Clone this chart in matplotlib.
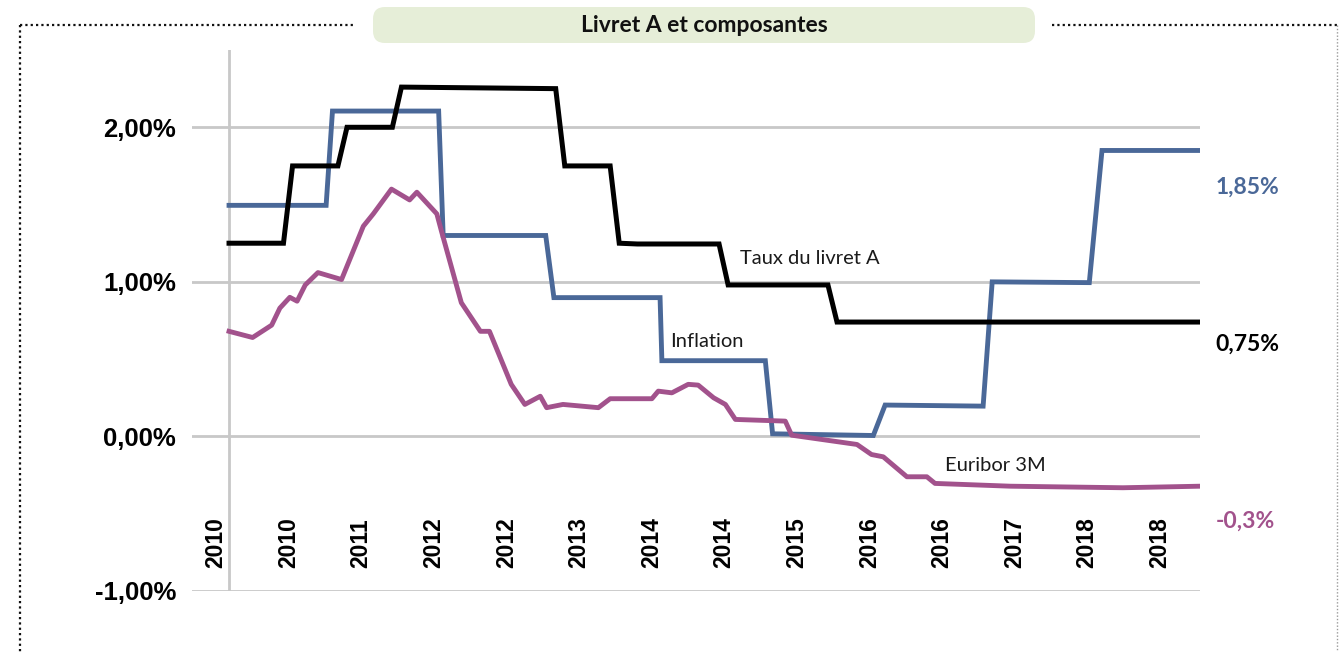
import numpy as np
import matplotlib
matplotlib.use("Agg")
import matplotlib.pyplot as plt
from matplotlib.patches import FancyBboxPatch
from matplotlib.lines import Line2D
from matplotlib.transforms import ScaledTranslation

# x = mois depuis janvier 2010 (0 = janv. 2010, 107 = déc. 2018)
livret_mois = [0, 6, 7, 12, 13, 18, 19, 36, 37, 42, 43, 45, 54, 55, 66, 67, 107]
livret_taux = [1.25, 1.25, 1.75, 1.75, 2.00, 2.00, 2.26, 2.25, 1.75, 1.75, 1.25, 1.245, 1.245,
               0.98, 0.98, 0.74, 0.74]

inflation_mois = [0, 10.7, 11.4, 23.1, 23.6, 34.9, 35.8, 47.5, 47.7, 59.1, 59.9, 71.0, 72.3,
                  83.1, 84.1, 94.8, 96.2, 107]
inflation_taux = [1.495, 1.495, 2.105, 2.105, 1.30, 1.30, 0.898, 0.898, 0.49, 0.49, 0.017,
                  0.006, 0.203, 0.196, 1.00, 0.995, 1.85, 1.85]

euribor_mois = [0, 2.6, 4.7, 5.6, 6.7, 7.5, 8.4, 9.8, 12.4, 14.8, 15.9, 17.9, 19.9, 20.7,
                22.9, 23.4, 25.6, 27.7, 28.7, 31.1, 32.6, 34.3, 35.0, 36.8, 40.7, 42.0,
                46.6, 47.3, 48.8, 50.6, 51.7, 53.4, 54.7, 55.8, 61.3, 62.0, 69.2, 70.8,
                72.1, 74.7, 76.9, 77.8, 86.1, 98.5, 107]
euribor_taux = [0.68, 0.64, 0.72, 0.83, 0.90, 0.875, 0.98, 1.06, 1.015, 1.36, 1.44, 1.60,
                1.53, 1.58, 1.44, 1.33, 0.865, 0.68, 0.68, 0.337, 0.207, 0.26, 0.186, 0.207,
                0.186, 0.244, 0.244, 0.293, 0.282, 0.337, 0.332, 0.25, 0.207, 0.11, 0.099,
                0.008, -0.052, -0.117, -0.132, -0.261, -0.261, -0.304, -0.322, -0.332,
                -0.322]

tick_mois = list(range(0, 105, 8))
tick_labels = ["2010", "2010", "2011", "2012", "2012", "2013", "2014", "2014",
               "2015", "2016", "2016", "2017", "2018", "2018"]
y_ticks = [-1, 0, 1, 2]
y_labels = ["-1,00%", "0,00%", "1,00%", "2,00%"]

c_livret = "#000000"
c_infl = "#4a6898"
c_eur = "#a2528c"
c_grid = "#c8c8c8"

fig = plt.figure(figsize=(13.39, 6.52), dpi=100)
ax = fig.add_axes([192 / 1339, 61 / 652, 1008 / 1339, 541 / 652])

ax.plot(inflation_mois, inflation_taux, color=c_infl, lw=3.5, solid_joinstyle="miter")
ax.plot(euribor_mois, euribor_taux, color=c_eur, lw=3.5)
ax.plot(livret_mois, livret_taux, color=c_livret, lw=3.6, solid_joinstyle="miter")

ax.set_xlim(-4.08, 107)
ax.set_ylim(-1.0, 2.5)
for s in ax.spines.values():
    s.set_visible(False)
ax.set_axisbelow(True)
ax.grid(axis="y", color=c_grid, lw=2)
ax.axvline(0, color=c_grid, lw=2, zorder=0)

ax.set_yticks(y_ticks)
ax.set_yticklabels(y_labels, fontfamily="Liberation Sans", fontweight="bold", fontsize=18.5)
ax.tick_params(axis="y", length=0, pad=11.5)

ax.set_xticks(tick_mois)
ax.set_xticklabels(tick_labels, rotation=90, va="bottom", fontfamily="Liberation Sans",
                   fontweight="bold", fontsize=16.5)
ax.tick_params(axis="x", length=0, pad=-16.5)
shift = ScaledTranslation(-13 / 100, 0, fig.dpi_scale_trans)
for lab in ax.get_xticklabels():
    lab.set_transform(lab.get_transform() + shift)

# libellés des courbes
lbl = dict(fontfamily="Lato", fontweight="normal", fontsize=14.5, va="center", color="#1a1a1a")
ax.text(56.3, 1.15, "Taux du livret A", **lbl)
ax.text(48.6, 0.615, "Inflation", **lbl)
ax.text(78.9, -0.19, "Euribor 3M", **lbl)

# valeurs finales
ax.text(108.7, 1.61, "1,85%", color=c_infl, fontfamily="Lato", fontweight="bold",
        fontsize=16.5, va="center", clip_on=False)
ax.text(108.7, 0.595, "0,75%", color=c_livret, fontfamily="Lato", fontweight="bold",
        fontsize=16.5, va="center", clip_on=False)
ax.text(108.7, -0.55, "-0,3%", color=c_eur, fontfamily="Lato", fontweight="bold",
        fontsize=16.5, va="center", clip_on=False)

# cadre pointillé et titre
H = 6.52
dot = (0, (1, 1.4))
fig.add_artist(Line2D([0.20, 3.55], [H - 0.25, H - 0.25], transform=fig.dpi_scale_trans,
                      color="#111111", lw=1.6, ls=dot))
fig.add_artist(Line2D([10.52, 13.37], [H - 0.25, H - 0.25], transform=fig.dpi_scale_trans,
                      color="#111111", lw=1.6, ls=dot))
fig.add_artist(Line2D([0.20, 0.20], [H - 0.25, 0], transform=fig.dpi_scale_trans,
                      color="#111111", lw=1.6, ls=dot))
fig.add_artist(Line2D([13.37, 13.37], [H - 0.25, 0], transform=fig.dpi_scale_trans,
                      color="#9a9a9a", lw=1.0, ls=dot))

box = FancyBboxPatch((3.73, H - 0.43), 6.62, 0.36, boxstyle="round,pad=0,rounding_size=0.12",
                     transform=fig.dpi_scale_trans, facecolor="#e6eed8", edgecolor="none")
fig.patches.append(box)
fig.text(7.04 / 13.39, 1 - 0.25 / H, "Livret A et composantes", ha="center", va="center",
         fontfamily="Lato", fontweight="bold", fontsize=16.5, color="#111111")

fig.savefig("out.png", dpi=100)
